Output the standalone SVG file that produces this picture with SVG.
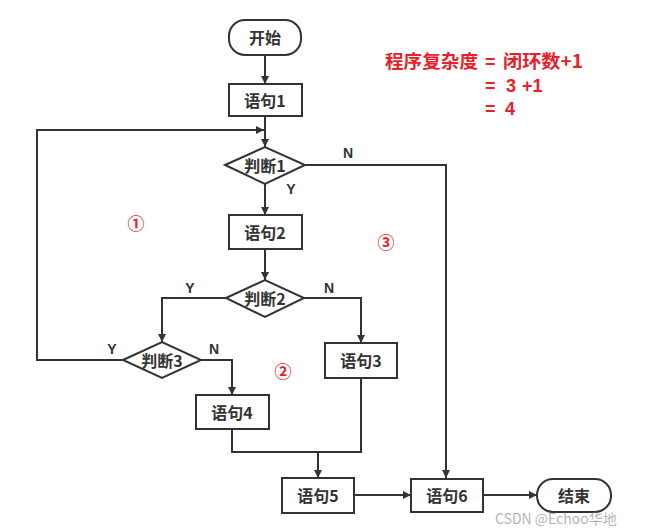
<svg xmlns="http://www.w3.org/2000/svg" width="651" height="528" viewBox="0 0 651 528">
<defs>
<marker id="ah" viewBox="0 0 10 10" refX="10" refY="5" markerWidth="8" markerHeight="8" markerUnits="userSpaceOnUse" orient="auto">
<path d="M0,0 L10,5 L0,10 z" fill="#333"/>
</marker>
<style>
.box{fill:#fff;stroke:#333;stroke-width:2}
.lbl{font-family:"Noto Sans CJK SC","Noto Sans",sans-serif;font-weight:bold;font-size:16px;fill:#333;text-anchor:middle;dominant-baseline:central}
.yn{font-family:"Liberation Sans","Noto Sans",sans-serif;font-weight:bold;font-size:14px;fill:#333;text-anchor:middle;dominant-baseline:central}
.ln{fill:none;stroke:#333;stroke-width:2}
.red{font-family:"Noto Sans CJK SC","Noto Sans",sans-serif;font-weight:bold;font-size:18px;fill:#e8202a}
.redl{font-family:"Liberation Sans","Noto Sans",sans-serif;font-weight:bold;font-size:18px;fill:#e8202a}
.circ{font-family:"Noto Sans CJK SC",sans-serif;font-weight:bold;font-size:17px;fill:#e8202a;text-anchor:middle;dominant-baseline:central}
</style>
</defs>
<rect width="651" height="528" fill="#fff"/>
<g id="connectors">
<path class="ln" d="M265,54 V84" marker-end="url(#ah)"/>
<path class="ln" d="M265,116 V147" marker-end="url(#ah)"/>
<path class="ln" d="M162,360 H37 V130 H264" marker-end="url(#ah)"/>
<path class="ln" d="M265,184 V215" marker-end="url(#ah)"/>
<path class="ln" d="M305,165 H446 V478" marker-end="url(#ah)"/>
<path class="ln" d="M265,249 V280" marker-end="url(#ah)"/>
<path class="ln" d="M226,298 H162 V342" marker-end="url(#ah)"/>
<path class="ln" d="M304,298 H361 V343" marker-end="url(#ah)"/>
<path class="ln" d="M201,360 H232 V395" marker-end="url(#ah)"/>
<path class="ln" d="M232,429 V452 H361 V378"/>
<path class="ln" d="M318,452 V478" marker-end="url(#ah)"/>
<path class="ln" d="M354,495 H411" marker-end="url(#ah)"/>
<path class="ln" d="M483,495 H537" marker-end="url(#ah)"/>
<text class="yn" x="291" y="189">Y</text>
<text class="yn" x="348" y="153">N</text>
<text class="yn" x="190" y="288">Y</text>
<text class="yn" x="329" y="288">N</text>
<text class="yn" x="112" y="349">Y</text>
<text class="yn" x="214" y="349">N</text>
</g>
<g id="start"><rect class="box" x="229" y="20" width="72" height="35" rx="16"/><text class="lbl" x="265" y="37">开始</text></g>
<g id="s1"><rect class="box" x="229" y="84" width="73" height="32"/><text class="lbl" x="265" y="100">语句1</text></g>
<g id="d1"><polygon class="box" points="225,165 265,147 305,165 265,184"/><text class="lbl" x="265" y="165">判断1</text></g>
<g id="s2"><rect class="box" x="229" y="215" width="73" height="34"/><text class="lbl" x="265" y="232">语句2</text></g>
<g id="d2"><polygon class="box" points="226,298 265,280 304,298 265,317"/><text class="lbl" x="265" y="298">判断2</text></g>
<g id="d3"><polygon class="box" points="123,360 162,342 201,360 162,378"/><text class="lbl" x="162" y="360">判断3</text></g>
<g id="s3"><rect class="box" x="325" y="343" width="72" height="35"/><text class="lbl" x="361" y="360">语句3</text></g>
<g id="s4"><rect class="box" x="196" y="395" width="73" height="34"/><text class="lbl" x="232" y="412">语句4</text></g>
<g id="s5"><rect class="box" x="282" y="478" width="72" height="35"/><text class="lbl" x="318" y="495">语句5</text></g>
<g id="s6"><rect class="box" x="411" y="479" width="72" height="33"/><text class="lbl" x="447" y="495">语句6</text></g>
<g id="end"><rect class="box" x="537" y="479" width="74" height="33" rx="16"/><text class="lbl" x="574" y="495">结束</text></g>
<g id="annotations">
<text class="red" x="385" y="68" textLength="93" lengthAdjust="spacingAndGlyphs">程序复杂度</text>
<text class="redl" x="485" y="68">=</text>
<text class="red" x="503" y="68" textLength="80" lengthAdjust="spacingAndGlyphs">闭环数+1</text>
<text class="redl" x="485" y="92">=</text>
<text class="redl" x="506" y="92">3</text>
<text class="redl" x="522" y="92">+1</text>
<text class="redl" x="485" y="115">=</text>
<text class="redl" x="505" y="115">4</text>
<text class="circ" x="136" y="222">①</text>
<text class="circ" x="386" y="241">③</text>
<text class="circ" x="283" y="370">②</text>
<text x="495" y="524" font-family="Noto Sans CJK SC, Noto Sans, sans-serif" font-size="14" fill="#999" fill-opacity="0.75">CSDN @Echoo华地</text>
</g>
</svg>
